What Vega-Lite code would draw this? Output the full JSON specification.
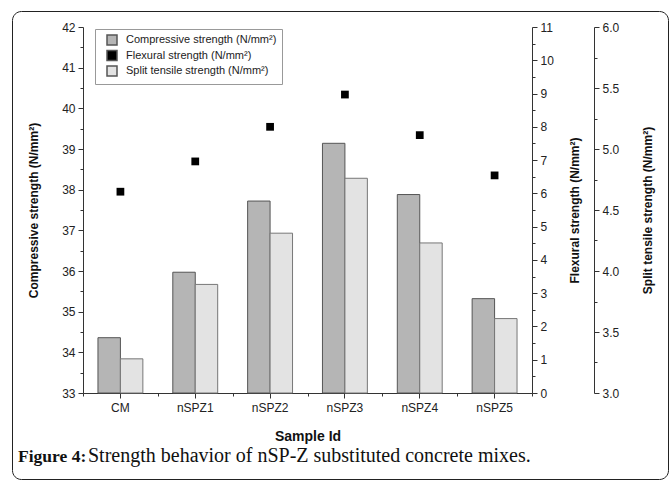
{
  "$schema": "https://vega.github.io/schema/vega-lite/v6.json",
  "width": 656,
  "height": 468,
  "autosize": {"type": "none"},
  "padding": {"left": 12, "top": 11, "right": 2, "bottom": 1},
  "background": "white",
  "title": {
    "text": "Figure 4:",
    "subtitle": "\u200b\u00a0\u00a0\u00a0\u00a0\u00a0\u00a0\u00a0\u00a0\u00a0\u00a0\u00a0\u00a0\u00a0\u00a0Strength behavior of nSP-Z substituted concrete mixes.",
    "orient": "bottom",
    "anchor": "start",
    "frame": "group",
    "dx": 6,
    "offset": -31,
    "font": "Liberation Serif",
    "fontSize": 17.5,
    "fontWeight": "bold",
    "color": "#111",
    "subtitleFont": "Liberation Serif",
    "subtitleFontSize": 20,
    "subtitleColor": "#111",
    "subtitlePadding": -19.5
  },
  "data": {
    "values": [
      {"sample": "CM", "compressive": 34.36, "flexural": 6.05, "split": 3.28},
      {"sample": "nSPZ1", "compressive": 35.97, "flexural": 6.96, "split": 3.89},
      {"sample": "nSPZ2", "compressive": 37.72, "flexural": 8.0, "split": 4.31},
      {"sample": "nSPZ3", "compressive": 39.14, "flexural": 8.97, "split": 4.76},
      {"sample": "nSPZ4", "compressive": 37.88, "flexural": 7.75, "split": 4.23},
      {"sample": "nSPZ5", "compressive": 35.32, "flexural": 6.54, "split": 3.61}
    ]
  },
  "layer": [
    {
      "mark": {"type": "bar", "stroke": "#555", "strokeWidth": 1},
      "encoding": {
        "x": {
          "field": "sample", "type": "nominal", "sort": null,
          "scale": {"paddingInner": 0, "paddingOuter": 0, "range": [71, 520]},
          "axis": {
            "orient": "bottom", "offset": -86, "title": "Sample Id", "titleFontSize": 14,
            "titlePadding": 16, "labelAngle": 0, "labelPadding": 4, "tickSize": 5
          }
        },
        "xOffset": {
          "datum": "Compressive strength (N/mm²)",
          "scale": {"domain": ["Compressive strength (N/mm²)", "Split tensile strength (N/mm²)"], "paddingInner": 0, "paddingOuter": 0.6667}
        },
        "y": {
          "field": "compressive", "type": "quantitative",
          "scale": {"domain": [33, 42], "range": [382, 16], "zero": false, "nice": false},
          "axis": {
            "orient": "left", "offset": -71, "title": "Compressive strength (N/mm²)", "titlePadding": 21,
            "values": [33, 33.5, 34, 34.5, 35, 35.5, 36, 36.5, 37, 37.5, 38, 38.5, 39, 39.5, 40, 40.5, 41, 41.5, 42],
            "labelExpr": "datum.value % 1 === 0 ? format(datum.value, 'd') : ''",
            "tickSize": {"condition": {"test": "datum.value % 1 !== 0", "value": 3}, "value": 5},
            "labelOverlap": false
          }
        },
        "y2": {"datum": 33},
        "fill": {
          "datum": "Compressive strength (N/mm²)",
          "scale": {
            "domain": ["Compressive strength (N/mm²)", "Flexural strength (N/mm²)", "Split tensile strength (N/mm²)"],
            "range": ["#b5b5b5", "#000000", "#e3e3e3"]
          },
          "legend": {
            "orient": "none", "legendX": 83, "legendY": 18, "title": null, "direction": "vertical",
            "strokeColor": "#999", "fillColor": "white", "padding": 5,
            "symbolSize": 100, "symbolOffset": 6, "labelOffset": 8, "rowPadding": -0.5,
            "labelFont": "Liberation Sans", "labelFontSize": 11, "labelColor": "#222", "labelLimit": 300,
            "encode": {
              "symbols": {
                "update": {
                  "shape": {"signal": "datum.value === 'Flexural strength (N/mm²)' ? 'square' : 'M-2.5,-1H2.5V1H-2.5Z'"},
                  "size": {"signal": "datum.value === 'Flexural strength (N/mm²)' ? 40 : 100"},
                  "stroke": {"signal": "datum.value === 'Flexural strength (N/mm²)' ? 'transparent' : '#666'"},
                  "strokeWidth": {"value": 1},
                  "opacity": {"value": 1}
                }
              }
            }
          }
        }
      }
    },
    {
      "mark": {"type": "bar", "stroke": "#777", "strokeWidth": 1},
      "encoding": {
        "x": {
          "field": "sample", "type": "nominal", "sort": null,
          "scale": {"paddingInner": 0, "paddingOuter": 0, "range": [71, 520]},
          "axis": null
        },
        "xOffset": {
          "datum": "Split tensile strength (N/mm²)",
          "scale": {"domain": ["Compressive strength (N/mm²)", "Split tensile strength (N/mm²)"], "paddingInner": 0, "paddingOuter": 0.6667}
        },
        "y": {
          "field": "split", "type": "quantitative",
          "scale": {"domain": [3, 6], "range": [382, 16], "zero": false, "nice": false},
          "axis": {
            "orient": "right", "offset": -74, "title": "Split tensile strength (N/mm²)",
            "titleAngle": 270, "titleBaseline": "top", "titlePadding": 24,
            "values": [3, 3.25, 3.5, 3.75, 4, 4.25, 4.5, 4.75, 5, 5.25, 5.5, 5.75, 6],
            "labelExpr": "(datum.value * 2) % 1 === 0 ? format(datum.value, '.1f') : ''",
            "tickSize": {"condition": {"test": "(datum.value * 2) % 1 !== 0", "value": 3}, "value": 5},
            "labelOverlap": false
          }
        },
        "y2": {"datum": 3},
        "fill": {"datum": "Split tensile strength (N/mm²)"}
      }
    },
    {
      "mark": {"type": "point", "shape": "square", "filled": true, "size": 60, "opacity": 1},
      "encoding": {
        "x": {
          "field": "sample", "type": "nominal", "sort": null,
          "scale": {"paddingInner": 0, "paddingOuter": 0, "range": [71, 520]},
          "axis": {
            "orient": "bottom", "offset": -86, "title": null, "labels": false, "domain": false,
            "tickBand": "extent", "tickSize": 3
          }
        },
        "y": {
          "field": "flexural", "type": "quantitative",
          "scale": {"domain": [0, 11], "range": [382, 16], "zero": false, "nice": false},
          "axis": {
            "orient": "right", "offset": -136, "title": "Flexural strength (N/mm²)",
            "titleAngle": 270, "titleBaseline": "top", "titlePadding": 16,
            "values": [0, 0.5, 1, 1.5, 2, 2.5, 3, 3.5, 4, 4.5, 5, 5.5, 6, 6.5, 7, 7.5, 8, 8.5, 9, 9.5, 10, 10.5, 11],
            "labelExpr": "datum.value % 1 === 0 ? format(datum.value, 'd') : ''",
            "tickSize": {"condition": {"test": "datum.value % 1 !== 0", "value": 3}, "value": 5},
            "labelOverlap": false
          }
        },
        "fill": {"datum": "Flexural strength (N/mm²)"}
      }
    }
  ],
  "resolve": {
    "scale": {"x": "independent", "y": "independent"},
    "axis": {"x": "independent", "y": "independent"}
  },
  "config": {
    "view": {"stroke": "#222", "strokeWidth": 1, "cornerRadius": 9, "fill": "white"},
    "axis": {
      "labelFont": "Liberation Sans", "titleFont": "Liberation Sans",
      "labelFontSize": 12, "titleFontSize": 12, "titleFontWeight": "bold",
      "labelColor": "#222", "titleColor": "#111",
      "domainColor": "#333", "tickColor": "#333", "grid": false, "labelPadding": 3
    }
  }
}
